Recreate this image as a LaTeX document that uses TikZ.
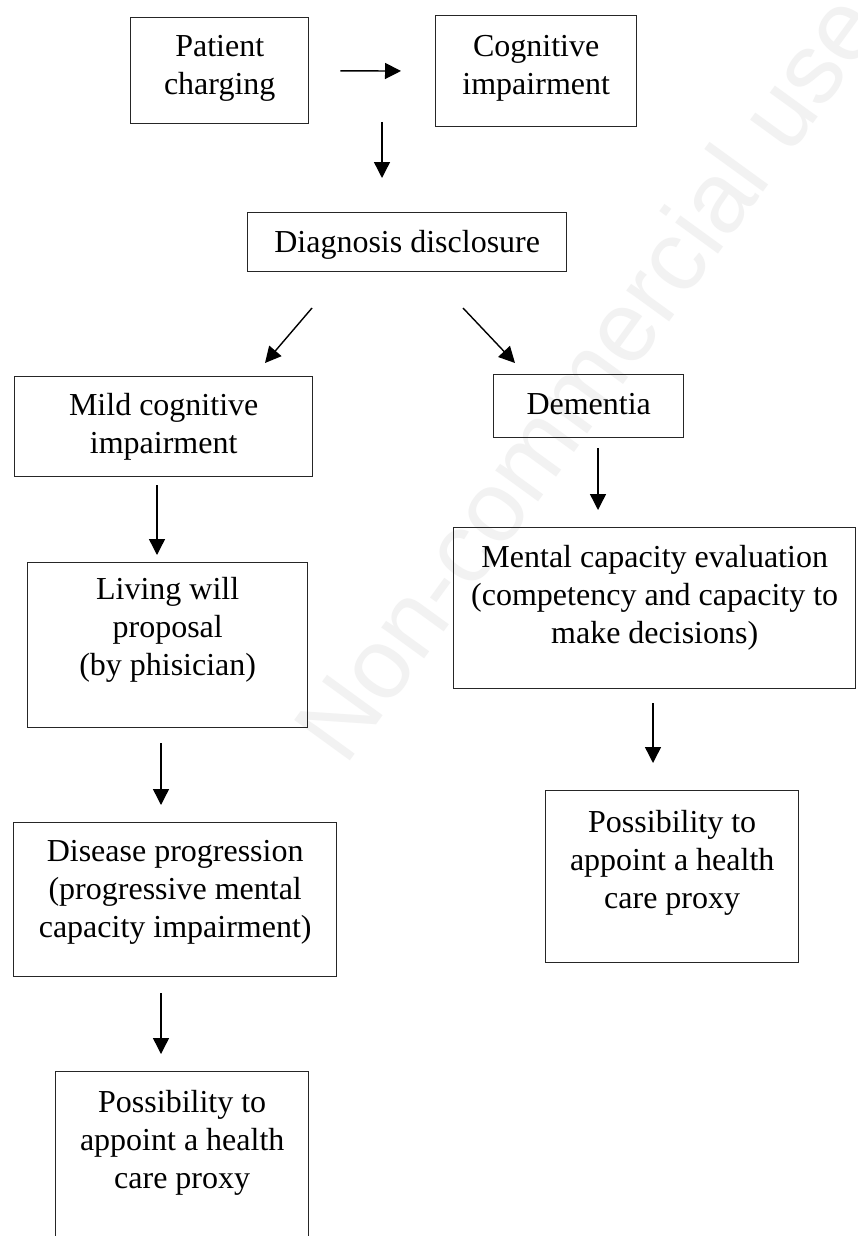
\documentclass[tikz,border=0pt]{standalone}
\usepackage{fontspec}
\setmainfont{Liberation Serif}
\newfontfamily\wmfont{Liberation Sans}
\usetikzlibrary{arrows.meta}
\begin{document}
\begin{tikzpicture}[x=1pt,y=-1pt,
  box/.style={draw=black!85, line width=1.4pt, rectangle, inner sep=0pt, anchor=north west},
  txt/.style={align=center, inner sep=0pt, anchor=north, font=\fontsize{32}{38}\selectfont},
  arr/.style={draw=black, line width=1.4pt, -{Triangle[length=16pt,width=16pt]}},
]
\useasboundingbox (0,0) rectangle (857,1236);
\clip (0,0) rectangle (857,1236);
\fill[white] (0,0) rectangle (857,1236);

% watermark
\node[rotate=54, anchor=base west, inner sep=0pt, text=black!5, font=\fontsize{100}{100}\selectfont\wmfont] (wm) at (345,768) {Non-commercial use};

% boxes
\node[box, minimum width=178pt, minimum height=106pt] (pc) at (130,17) {};
\node[box, minimum width=201pt, minimum height=111pt] (ci) at (435,15) {};
\node[box, minimum width=319pt, minimum height=59pt] (dd) at (247,212) {};
\node[box, minimum width=298pt, minimum height=100pt] (mci) at (14,376) {};
\node[box, minimum width=190pt, minimum height=63pt] (dem) at (493,374) {};
\node[box, minimum width=402pt, minimum height=161pt] (mce) at (453,527) {};
\node[box, minimum width=253pt, minimum height=172pt] (pr) at (545,790) {};
\node[box, minimum width=280pt, minimum height=165pt] (lw) at (27,562) {};
\node[box, minimum width=323pt, minimum height=154pt] (dp) at (13,822) {};
\node[box, minimum width=253pt, minimum height=220pt] (pl) at (55,1071) {};

% texts
\node[txt] (tpc) at ([yshift=-18pt]pc.north) {Patient\\charging};
\node[txt] (tci) at ([yshift=-20pt]ci.north) {Cognitive\\impairment};
\node[txt] (tdd) at ([yshift=-18pt]dd.north) {Diagnosis disclosure};
\node[txt] (tmci) at ([yshift=-17pt]mci.north) {Mild cognitive\\impairment};
\node[txt] (tdem) at ([yshift=-19pt]dem.north) {Dementia};
\node[txt] (tmce) at ([yshift=-18pt]mce.north) {Mental capacity evaluation\\(competency and capacity to\\make decisions)};
\node[txt] (tpr) at ([yshift=-20pt]pr.north) {Possibility to\\appoint a health\\care proxy};
\node[txt] (tlw) at ([yshift=-15pt]lw.north) {Living will\\proposal\\(by phisician)};
\node[txt] (tdp) at ([yshift=-18pt]dp.north) {Disease progression\\(progressive mental\\capacity impairment)};
\node[txt] (tpl) at ([yshift=-19pt]pl.north) {Possibility to\\appoint a health\\care proxy};

% connectors
\draw[arr, shorten <=31pt, shorten >=34pt] (pc) -- (ci);
\coordinate (v1) at (382,122);
\draw[arr, shorten >=34pt] (v1) -- (v1 |- dd.north);
\coordinate (d1) at (312,308);
\coordinate (d1e) at (265,363);
\draw[arr] (d1) -- (d1e);
\coordinate (d2) at (463,308);
\coordinate (d2e) at (515,363);
\draw[arr] (d2) -- (d2e);

\coordinate (xa) at (157,0);
\coordinate (xb) at (161,0);
\coordinate (xc) at (598,0);
\coordinate (xd) at (653,0);
\draw[arr, shorten <=8pt, shorten >=7pt] (mci.south -| xa) -- (lw.north -| xa);
\draw[arr, shorten <=15pt, shorten >=17pt] (lw.south -| xb) -- (dp.north -| xb);
\draw[arr, shorten <=16pt, shorten >=17pt] (dp.south -| xb) -- (pl.north -| xb);
\draw[arr, shorten <=10pt, shorten >=17pt] (dem.south -| xc) -- (mce.north -| xc);
\draw[arr, shorten <=14pt, shorten >=27pt] (mce.south -| xd) -- (pr.north -| xd);
\end{tikzpicture}
\end{document}
